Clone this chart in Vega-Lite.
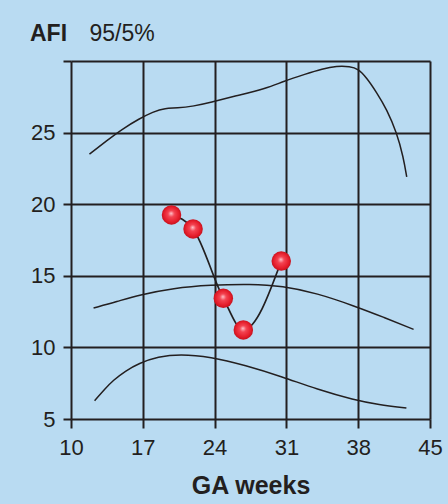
{
  "$schema": "https://vega.github.io/schema/vega-lite/v6.json",
  "width": 359,
  "height": 358,
  "autosize": {"type": "none"},
  "padding": {"left": 71, "top": 61, "right": 18, "bottom": 85},
  "background": "#b9dbf2",
  "config": {
    "view": {"stroke": null},
    "font": "Liberation Sans"
  },
  "title": {
    "text": "AFI",
    "anchor": "start",
    "frame": "group",
    "fontSize": 23,
    "fontWeight": "bold",
    "color": "#231f20",
    "baseline": "alphabetic",
    "dx": -41,
    "offset": -42
  },
  "datasets": {
    "curves": [
      {"series": "p95", "ga": 11.8, "afi": 23.5},
      {"series": "p95", "ga": 13.5, "afi": 24.45},
      {"series": "p95", "ga": 15.0, "afi": 25.25},
      {"series": "p95", "ga": 16.6, "afi": 25.95},
      {"series": "p95", "ga": 18.0, "afi": 26.45},
      {"series": "p95", "ga": 19.2, "afi": 26.72},
      {"series": "p95", "ga": 20.3, "afi": 26.7},
      {"series": "p95", "ga": 22.0, "afi": 26.85},
      {"series": "p95", "ga": 23.6, "afi": 27.1},
      {"series": "p95", "ga": 26.0, "afi": 27.55},
      {"series": "p95", "ga": 29.1, "afi": 28.1},
      {"series": "p95", "ga": 30.6, "afi": 28.55},
      {"series": "p95", "ga": 32.9, "afi": 29.1},
      {"series": "p95", "ga": 34.5, "afi": 29.45},
      {"series": "p95", "ga": 35.9, "afi": 29.65},
      {"series": "p95", "ga": 37.2, "afi": 29.62},
      {"series": "p95", "ga": 38.0, "afi": 29.45},
      {"series": "p95", "ga": 38.8, "afi": 28.85},
      {"series": "p95", "ga": 39.8, "afi": 27.8},
      {"series": "p95", "ga": 40.8, "afi": 26.6},
      {"series": "p95", "ga": 41.75, "afi": 25.0},
      {"series": "p95", "ga": 42.4, "afi": 23.3},
      {"series": "p95", "ga": 42.73, "afi": 21.9},
      {"series": "p50", "ga": 12.2, "afi": 12.75},
      {"series": "p50", "ga": 14.5, "afi": 13.2},
      {"series": "p50", "ga": 16.6, "afi": 13.66},
      {"series": "p50", "ga": 20.0, "afi": 14.15},
      {"series": "p50", "ga": 23.6, "afi": 14.36},
      {"series": "p50", "ga": 27.5, "afi": 14.43},
      {"series": "p50", "ga": 30.6, "afi": 14.3},
      {"series": "p50", "ga": 34.0, "afi": 13.78},
      {"series": "p50", "ga": 37.6, "afi": 12.9},
      {"series": "p50", "ga": 40.5, "afi": 12.1},
      {"series": "p50", "ga": 43.4, "afi": 11.26},
      {"series": "p5", "ga": 12.3, "afi": 6.28},
      {"series": "p5", "ga": 13.3, "afi": 7.1},
      {"series": "p5", "ga": 14.1, "afi": 7.7},
      {"series": "p5", "ga": 15.3, "afi": 8.35},
      {"series": "p5", "ga": 16.6, "afi": 8.89},
      {"series": "p5", "ga": 18.5, "afi": 9.35},
      {"series": "p5", "ga": 20.6, "afi": 9.54},
      {"series": "p5", "ga": 23.6, "afi": 9.35},
      {"series": "p5", "ga": 27.0, "afi": 8.75},
      {"series": "p5", "ga": 30.6, "afi": 7.95},
      {"series": "p5", "ga": 34.0, "afi": 7.07},
      {"series": "p5", "ga": 37.6, "afi": 6.33},
      {"series": "p5", "ga": 40.0, "afi": 6.0},
      {"series": "p5", "ga": 42.7, "afi": 5.77}
    ],
    "patient": [
      {"ga": 19.8, "afi": 19.25},
      {"ga": 21.9, "afi": 18.27},
      {"ga": 24.85, "afi": 13.43},
      {"ga": 26.8, "afi": 11.22},
      {"ga": 30.5, "afi": 16.03}
    ]
  },
  "encoding": {
    "x": {
      "field": "ga",
      "type": "quantitative",
      "scale": {"domain": [10, 45], "nice": false, "zero": false},
      "axis": {
        "values": [10, 17, 24, 31, 38, 45],
        "title": "GA weeks",
        "titleFontSize": 25,
        "titleFontWeight": "bold",
        "titleColor": "#231f20",
        "titlePadding": 15,
        "labelFontSize": 22,
        "labelColor": "#231f20",
        "labelPadding": 9,
        "labelFlush": false,
        "grid": true,
        "gridColor": "#231f20",
        "gridWidth": 2,
        "gridOpacity": 1,
        "domain": false,
        "ticks": true,
        "tickSize": 9,
        "tickColor": "#231f20",
        "tickWidth": 2
      }
    },
    "y": {
      "field": "afi",
      "type": "quantitative",
      "scale": {"domain": [5, 30], "nice": false, "zero": false},
      "axis": {
        "values": [5, 10, 15, 20, 25, 30],
        "labelExpr": "datum.value == 30 ? '' : datum.label",
        "title": "95/5%",
        "titleAngle": 0,
        "titleAlign": "left",
        "titleBaseline": "alphabetic",
        "titleX": 18,
        "titleY": -21,
        "titleFontSize": 23,
        "titleFontWeight": "normal",
        "titleColor": "#231f20",
        "labelFontSize": 22,
        "labelColor": "#231f20",
        "labelPadding": 8,
        "labelFlush": false,
        "grid": true,
        "gridColor": "#231f20",
        "gridWidth": 2,
        "gridOpacity": 1,
        "domain": false,
        "ticks": true,
        "tickSize": 8,
        "tickColor": "#231f20",
        "tickWidth": 2
      }
    }
  },
  "layer": [
    {
      "data": {"name": "curves"},
      "mark": {"type": "line", "interpolate": "basis", "color": "#231f20", "strokeWidth": 1.5},
      "encoding": {"detail": {"field": "series"}}
    },
    {
      "data": {"name": "patient"},
      "mark": {"type": "line", "interpolate": "monotone", "color": "#231f20", "strokeWidth": 1.7}
    },
    {
      "data": {"name": "patient"},
      "mark": {
        "type": "point",
        "filled": true,
        "size": 380,
        "opacity": 1,
        "strokeWidth": 0,
        "fill": {
          "gradient": "radial",
          "x1": 0.48, "y1": 0.42, "r1": 0,
          "x2": 0.5, "y2": 0.5, "r2": 0.55,
          "stops": [
            {"offset": 0, "color": "#ffc4cc"},
            {"offset": 0.3, "color": "#f34452"},
            {"offset": 0.7, "color": "#e61e2c"},
            {"offset": 1, "color": "#b80c18"}
          ]
        }
      }
    }
  ]
}
